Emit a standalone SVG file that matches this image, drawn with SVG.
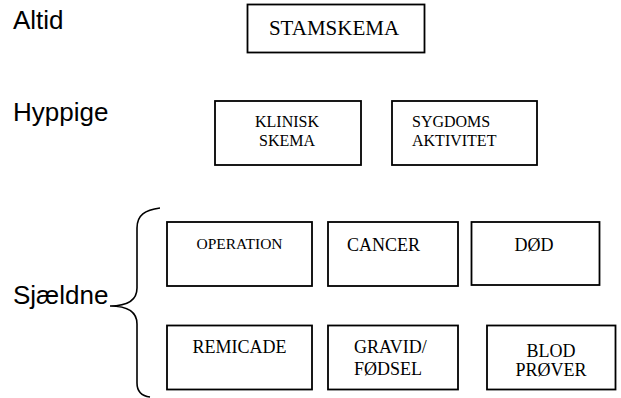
<svg xmlns="http://www.w3.org/2000/svg" width="621" height="398" viewBox="0 0 621 398">
<style>
.box{fill:#fff;stroke:#000;stroke-width:1.8}
.lbl{font-family:"Liberation Sans",Arial,sans-serif;font-size:26px;fill:#000}
.t{font-family:"Liberation Serif","Times New Roman",serif;fill:#000}
.t16{font-size:16px}
.t18{font-size:18px}
.mid{text-anchor:middle}
.brace{fill:none;stroke:#000;stroke-width:1.6}
</style>
<rect width="621" height="398" fill="#fff"/>
<g id="labels">
<text class="lbl" x="13" y="29">Altid</text>
<text class="lbl" x="13" y="121">Hyppige</text>
<text class="lbl" x="13" y="304">Sjældne</text>
</g>
<g id="connectors">
<path class="brace" d="M160,208 C145,210 137,215 137,228 L137,288 C137,300 128,306 110,306 C128,306 137,312 137,324 L137,383 C137,392 142,396 150,397"/>
</g>
<g id="stamskema">
<rect class="box" x="247.5" y="4.5" width="177" height="48"/>
<text class="t mid" x="334" y="35" font-size="21">STAMSKEMA</text>
</g>
<g id="klinisk">
<rect class="box" x="215" y="101" width="146" height="64"/>
<text class="t t16 mid" x="287" y="127">KLINISK</text>
<text class="t t16 mid" x="287" y="146">SKEMA</text>
</g>
<g id="sygdoms">
<rect class="box" x="392" y="101" width="145" height="64"/>
<text class="t t16" x="412" y="127">SYGDOMS</text>
<text class="t t16" x="412" y="146">AKTIVITET</text>
</g>
<g id="operation">
<rect class="box" x="167" y="222" width="145" height="64"/>
<text class="t mid" x="239.5" y="249" font-size="15.5">OPERATION</text>
</g>
<g id="cancer">
<rect class="box" x="328" y="222" width="130" height="64"/>
<text class="t t18" x="347" y="250.5">CANCER</text>
</g>
<g id="dod">
<rect class="box" x="471.5" y="222" width="128" height="63"/>
<text class="t t18 mid" x="534" y="250.5">DØD</text>
</g>
<g id="remicade">
<rect class="box" x="167" y="325.5" width="145" height="64"/>
<text class="t t18 mid" x="239.5" y="353">REMICADE</text>
</g>
<g id="gravid">
<rect class="box" x="328" y="325.5" width="130" height="64"/>
<text class="t t18" x="354" y="353">GRAVID/</text>
<text class="t t18" x="354" y="375">FØDSEL</text>
</g>
<g id="blod">
<rect class="box" x="487" y="325.5" width="128.5" height="64"/>
<text class="t t18 mid" x="551" y="356.5">BLOD</text>
<text class="t t18 mid" x="551" y="375.5">PRØVER</text>
</g>
</svg>
